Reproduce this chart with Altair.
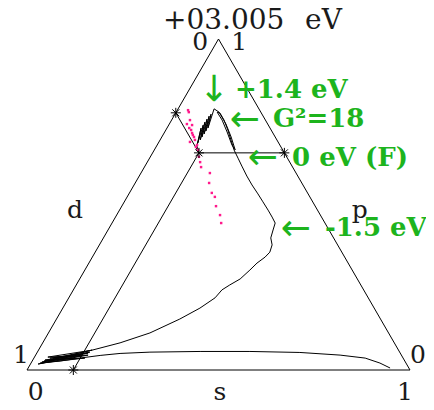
import altair as alt
import pandas as pd

# ---------------- data (ternary fractions: s, p ; d = 1 - s - p) ----------------
curve_s = [0.945, 0.911, 0.865, 0.795, 0.686, 0.554, 0.424, 0.294, 0.218, 0.169, 0.120, 0.073,
           0.024, 0.133, 0.032, 0.137, 0.020, 0.137, 0.035, 0.140, 0.027, 0.117, 0.042, 0.134,
           0.031, 0.107, 0.055, 0.140,
           0.202, 0.265, 0.322, 0.358, 0.382, 0.388, 0.401, 0.419, 0.431, 0.439,
           0.451, 0.456, 0.451, 0.437, 0.431, 0.426, 0.409, 0.388, 0.362, 0.337,
           0.308, 0.281, 0.253, 0.231, 0.208, 0.185, 0.162, 0.137, 0.116, 0.107,
           0.132, 0.163, 0.195, 0.211, 0.181, 0.148, 0.112, 0.094,
           0.107, 0.094, 0.106, 0.092, 0.106, 0.091, 0.105, 0.090, 0.105, 0.090, 0.103, 0.089,
           0.105, 0.121]
curve_p = [0.006, 0.021, 0.036, 0.045, 0.053, 0.056, 0.056, 0.054, 0.050, 0.044, 0.036, 0.027,
           0.021, 0.036, 0.030, 0.054, 0.018, 0.045, 0.039, 0.060, 0.024, 0.042, 0.036, 0.051,
           0.027, 0.036, 0.036, 0.060,
           0.082, 0.112, 0.154, 0.187, 0.218, 0.242, 0.257, 0.275, 0.302, 0.323,
           0.341, 0.356, 0.378, 0.399, 0.423, 0.444, 0.462, 0.483, 0.508, 0.532,
           0.559, 0.586, 0.616, 0.640, 0.665, 0.695, 0.725, 0.755, 0.776, 0.779,
           0.755, 0.719, 0.680, 0.665, 0.704, 0.743, 0.779, 0.789,
           0.731, 0.773, 0.722, 0.767, 0.713, 0.758, 0.704, 0.749, 0.695, 0.740, 0.686, 0.731,
           0.677, 0.656]

pink_s = [0.028, 0.033, 0.048, 0.046, 0.061, 0.058, 0.066, 0.073, 0.078, 0.081, 0.091, 0.084,
          0.104, 0.104, 0.114, 0.127, 0.138, 0.148, 0.180, 0.193, 0.215, 0.229, 0.246, 0.270, 0.285]
pink_p = [0.785, 0.779, 0.755, 0.743, 0.740, 0.731, 0.725, 0.716, 0.710, 0.689, 0.695, 0.704,
          0.680, 0.674, 0.665, 0.644, 0.628, 0.613, 0.595, 0.565, 0.535, 0.523, 0.495, 0.468, 0.444]

# Fermi point composition and its projections on the three edges
fermi_s, fermi_p = 0.121, 0.656
star_s = [fermi_s, fermi_s, 1 - fermi_p, 0.0]
star_p = [fermi_p, 0.0, fermi_p, fermi_s + fermi_p]

# segments: triangle edges + read-out lines from the Fermi point
seg_s1 = [0.0, 1.0, 0.0, fermi_s, fermi_s, fermi_s]
seg_p1 = [0.0, 0.0, 1.0, fermi_p, fermi_p, fermi_p]
seg_s2 = [1.0, 0.0, 0.0, fermi_s, 1 - fermi_p, 0.0]
seg_p2 = [0.0, 1.0, 0.0, 0.0, fermi_p, fermi_s + fermi_p]

# black labels (plot coordinates X, Y)
title_text = ["+03.005", "eV"]
title_x = [0.355, 0.726]
title_y = [0.893, 0.893]

lab_text = ["0", "1", "d", "p", "s", "1", "0", "0", "1"]
lab_x = [0.452, 0.554, 0.125, 0.869, 0.504, -0.016, 0.023, 1.021, 0.987]
lab_y = [0.837, 0.837, 0.398, 0.398, -0.078, 0.018, -0.078, 0.018, -0.078]

# green annotations
ann_text = ["+1.4 eV", "G²=18", "0 eV (F)", "-1.5 eV"]
ann_x = [0.543, 0.642, 0.692, 0.778]
ann_y = [0.712, 0.636, 0.534, 0.351]

arr_text = ["↓", "←", "←", "←"]
arr_x = [0.488, 0.569, 0.616, 0.702]
arr_y = [0.733, 0.654, 0.555, 0.369]

GREEN = "#1db41d"
PINK = "#ff1a8c"

# ---------------- tables ----------------
curve_df = pd.DataFrame({"s": curve_s, "p": curve_p, "i": list(range(len(curve_s)))})
pink_df = pd.DataFrame({"s": pink_s, "p": pink_p})
star_df = pd.DataFrame({"s": star_s, "p": star_p})
seg_df = pd.DataFrame({"s1": seg_s1, "p1": seg_p1, "s2": seg_s2, "p2": seg_p2})
title_df = pd.DataFrame({"t": title_text, "X": title_x, "Y": title_y})
lab_df = pd.DataFrame({"t": lab_text, "X": lab_x, "Y": lab_y})
ann_df = pd.DataFrame({"t": ann_text, "X": ann_x, "Y": ann_y})
arr_df = pd.DataFrame({"t": arr_text, "X": arr_x, "Y": arr_y})

xs = alt.Scale(domain=[0, 1], nice=False, zero=False)
ys = alt.Scale(domain=[0, 0.8660254], nice=False, zero=False)
XE = alt.X("X:Q", scale=xs, axis=None)
YE = alt.Y("Y:Q", scale=ys, axis=None)


def to_xy(ch):
    return ch.transform_calculate(X="datum.s + datum.p / 2", Y="datum.p * 0.8660254")


segs = alt.Chart(seg_df).transform_calculate(
    X1="datum.s1 + datum.p1 / 2", Y1="datum.p1 * 0.8660254",
    X2="datum.s2 + datum.p2 / 2", Y2="datum.p2 * 0.8660254",
).mark_rule(color="#000000", strokeWidth=1).encode(
    x=alt.X("X1:Q", scale=xs, axis=None), y=alt.Y("Y1:Q", scale=ys, axis=None),
    x2="X2:Q", y2="Y2:Q",
)

curve = to_xy(alt.Chart(curve_df)).mark_line(color="#000000", strokeWidth=1).encode(
    x=XE, y=YE, order="i:Q"
)

pink = to_xy(alt.Chart(pink_df)).mark_square(color=PINK, size=6, opacity=1).encode(x=XE, y=YE)

star_shape = "M-1,0L1,0M0,-1L0,1M-0.7,-0.7L0.7,0.7M-0.7,0.7L0.7,-0.7"
stars = to_xy(alt.Chart(star_df)).mark_point(
    shape=star_shape, size=100, filled=False, color="#000000", strokeWidth=1, opacity=1
).encode(x=XE, y=YE)

title = alt.Chart(title_df).mark_text(
    font="DejaVu Serif", fontSize=28, color="#1a1a1a", baseline="alphabetic", align="left"
).encode(x=XE, y=YE, text="t:N")

labels = alt.Chart(lab_df).mark_text(
    font="DejaVu Serif", fontSize=25, color="#1a1a1a", baseline="alphabetic", align="center"
).encode(x=XE, y=YE, text="t:N")

ann = alt.Chart(ann_df).mark_text(
    font="DejaVu Serif", fontSize=26, fontWeight="bold", color=GREEN, align="left", baseline="alphabetic"
).encode(x=XE, y=YE, text="t:N")

arrows = alt.Chart(arr_df).mark_text(
    font="DejaVu Sans", fontSize=36, color=GREEN, align="center", baseline="middle"
).encode(x=XE, y=YE, text="t:N")

chart = alt.layer(segs, curve, pink, stars, title, labels, ann, arrows).properties(
    width=383, height=331,
    padding={"left": 19, "top": 31, "right": 16, "bottom": 32},
    autosize="none",
).configure_view(strokeWidth=0)

chart.save("out.html", embed_options={"renderer": "svg", "actions": False})
